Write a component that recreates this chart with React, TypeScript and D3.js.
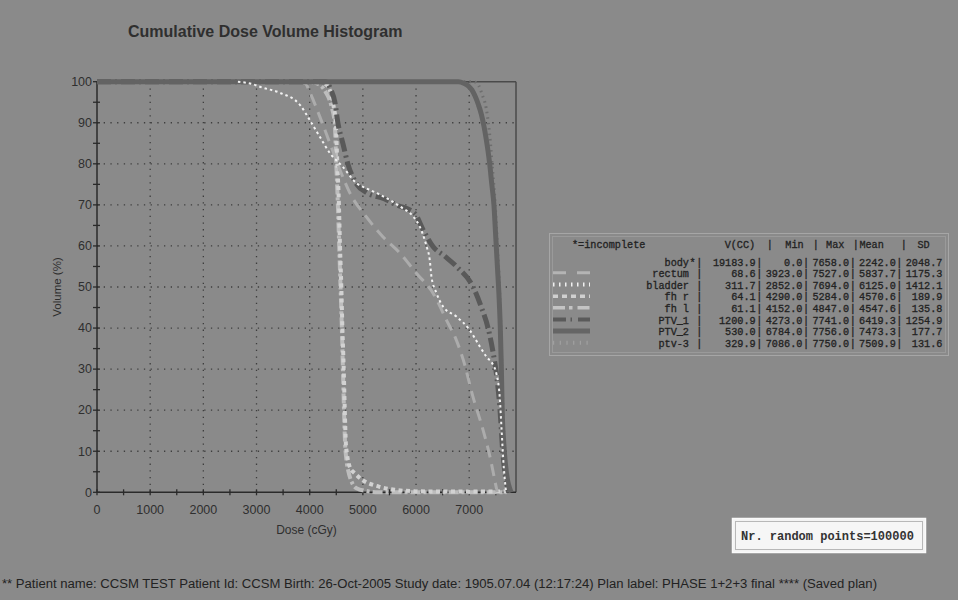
import React from "react";
import * as d3 from "d3";

// ---------- data ----------
const xTickValues = [0, 1000, 2000, 3000, 4000, 5000, 6000, 7000];
const yTickValues = [0, 10, 20, 30, 40, 50, 60, 70, 80, 90, 100];
const xMinorTicks = d3.range(0, 7501, 500);
const yMinorTicks = d3.range(0, 101, 5);

const structNames = ["body", "rectum", "bladder", "fh r", "fh l", "PTV_1", "PTV_2", "ptv-3"];
const incompleteFlag = [true, false, false, false, false, false, false, false];
const volCC = ["19183.9", "68.6", "311.7", "64.1", "61.1", "1200.9", "530.0", "329.9"];
const minDose = ["0.0", "3923.0", "2852.0", "4290.0", "4152.0", "4273.0", "6784.0", "7086.0"];
const maxDose = ["7658.0", "7527.0", "7694.0", "5284.0", "4847.0", "7741.0", "7756.0", "7750.0"];
const meanDose = ["2242.0", "5837.7", "6125.0", "4570.6", "4547.6", "6419.3", "7473.3", "7509.9"];
const sdDose = ["2048.7", "1175.3", "1412.1", "189.9", "135.8", "1254.9", "177.7", "131.6"];
const headerLeft = "*=incomplete";
const headerTokens = ["V(CC)", "|", "Min", "|", "Max", "|", "Mean", "|", "SD"];
const headerCells = [12.3, 18.6, 21.4, 25.5, 27.5, 31.5, 32.5, 38.7, 41.2];

// DVH curves: [dose cGy, volume %]
const rectumCurve: [number, number][] = [
  [3800, 100], [3923, 99.5], [4000, 97.5], [4190, 91.5], [4380, 85], [4570, 78.5], [4760, 72.8],
  [5070, 67], [5380, 62.2], [5700, 58.2], [6010, 53.3], [6320, 48.5], [6570, 42], [6760, 37],
  [6890, 32.2], [7070, 23.3], [7260, 15.2], [7390, 8.7], [7480, 3], [7527, 0],
];
const bladderCurve: [number, number][] = [
  [2650, 100], [2900, 99.5], [3100, 98.6], [3440, 97.3], [3820, 94.3], [4000, 90.7], [4190, 86.6],
  [4380, 82.6], [4620, 79.3], [4880, 75.3], [5070, 74], [5320, 72.5], [5700, 69.6], [5950, 67.1],
  [6070, 64.7], [6165, 61.4], [6200, 59.8], [6260, 56.4], [6290, 52.5], [6385, 48.5], [6510, 45.2],
  [6760, 42.8], [7010, 39.5], [7200, 35.5], [7325, 33], [7450, 31], [7510, 29], [7575, 23],
  [7610, 15], [7640, 8], [7670, 3], [7694, 0],
];
const fhrCurve: [number, number][] = [
  [4150, 100], [4290, 99.5], [4390, 97.5], [4450, 94], [4490, 90], [4520, 80], [4550, 70],
  [4570, 60], [4595, 50], [4615, 40], [4640, 30], [4660, 20], [4680, 12], [4700, 9.5], [4760, 6],
  [4850, 4.6], [4990, 3], [5300, 1.4], [5600, 0.6], [5900, 0.3], [6300, 0.2], [7700, 0.2],
];
const fhlCurve: [number, number][] = [
  [4000, 100], [4152, 99.5], [4300, 97.5], [4410, 94], [4470, 90], [4500, 80], [4530, 70],
  [4555, 60], [4580, 50], [4605, 40], [4625, 30], [4645, 20], [4665, 12], [4690, 8], [4730, 5],
  [4790, 2.5], [4880, 1], [5070, 0.3], [5300, 0], [7700, 0],
];
const ptv1Curve: [number, number][] = [
  [0, 100], [4300, 100], [4400, 98], [4474, 95], [4530, 90], [4624, 85], [4718, 80], [4887, 75],
  [5069, 73], [5400, 71.5], [5632, 70], [5977, 67.9], [6133, 63.9], [6322, 59.8], [6540, 57.5],
  [6760, 55], [7073, 50], [7230, 45], [7355, 40], [7450, 34], [7520, 28], [7580, 20], [7630, 10],
  [7680, 4], [7741, 0],
];
const ptv2Curve: [number, number][] = [
  [0, 100], [6800, 100], [6900, 99.6], [6980, 99], [7050, 98], [7110, 96.5], [7170, 94.5],
  [7230, 92], [7280, 89], [7320, 86], [7355, 83], [7385, 80], [7425, 75], [7465, 70], [7500, 62],
  [7530, 55], [7560, 48], [7585, 40], [7605, 30], [7620, 20], [7650, 12], [7680, 7], [7720, 3],
  [7760, 1], [7790, 0],
];
const ptv3Curve: [number, number][] = [
  [6900, 100], [7086, 100], [7180, 99], [7240, 97], [7320, 93.5], [7360, 90], [7400, 85],
  [7430, 80], [7490, 70], [7530, 60], [7570, 50], [7595, 40], [7615, 30], [7635, 20], [7670, 10],
  [7710, 4], [7750, 0],
];

const footerText =
  "** Patient name:  CCSM TEST Patient Id: CCSM Birth: 26-Oct-2005 Study date: 1905.07.04 (12:17:24) Plan label: PHASE 1+2+3 final **** (Saved plan)";

// ---------- layout ----------
const W = 958;
const H = 600;
const BG = "#8a8a8a";
const x = d3.scaleLinear().domain([0, 7880]).range([97, 516]);
const y = d3.scaleLinear().domain([0, 100]).range([492.3, 81.7]);

const lineGen = d3
  .line<[number, number]>()
  .x((d) => x(d[0]))
  .y((d) => y(d[1]))
  .curve(d3.curveMonotoneX);

type Style = { stroke: string; width: number; dash?: string };

const styles: Record<string, Style> = {
  rectum: { stroke: "#acacac", width: 3, dash: "12 7" },
  bladder: { stroke: "#f2f2f2", width: 2, dash: "2.5 3" },
  fhr: { stroke: "#d2d2d2", width: 4, dash: "4 3.5" },
  fhl: { stroke: "#bdbdbd", width: 4, dash: "10 3 3 3" },
  ptv1: { stroke: "#595959", width: 5, dash: "14 4 2 4" },
  ptv2: { stroke: "#636363", width: 5 },
  ptv3: { stroke: "#6e6e6e", width: 3, dash: "1.5 4" },
};

const legendStyleKeys = [null, "rectum", "bladder", "fhr", "fhl", "ptv1", "ptv2", "ptv3"];
const legendSwatch: Record<string, Style> = {
  rectum: { stroke: "#b4b4b4", width: 3, dash: "13 11" },
  bladder: { stroke: "#f0f0f0", width: 4, dash: "1.5 4.5" },
  fhr: { stroke: "#d0d0d0", width: 3.5, dash: "5 4" },
  fhl: { stroke: "#c4c4c4", width: 3.5, dash: "12 4 3.5 5" },
  ptv1: { stroke: "#5a5a5a", width: 4, dash: "13 4.5 1.5 6" },
  ptv2: { stroke: "#656565", width: 5 },
  ptv3: { stroke: "#a0a0a0", width: 4, dash: "1.2 5.5" },
};

const sans = "'Liberation Sans', Arial, sans-serif";
const mono = "'Liberation Mono', 'Courier New', monospace";
const ink = "#2f2f2f";

// monospace cell grid for the table
const MONO_FS = 10.2;
const CELL = 6.67;
const ROW_X = 642.6;
const cellX = (i: number) => ROW_X + i * CELL;
// field layout: name 0-6, flag 7, pipe 8, V 9-16, pipe 17, min 18-23, pipe 24, max 25-30, pipe 31, mean 32-37, pipe 38, sd 39-44
const pipeCells = [8, 17, 24, 31, 38];
const fieldEndCells = [17, 24, 31, 38, 45];

function Curve({ data, s }: { data: [number, number][]; s: Style }) {
  return (
    <path
      d={lineGen(data) || ""}
      fill="none"
      stroke={s.stroke}
      strokeWidth={s.width}
      strokeDasharray={s.dash}
      strokeLinejoin="round"
    />
  );
}

export default function App() {
  const x0 = x(0);
  const x1 = x.range()[1];
  const y0 = y(0);
  const y1 = y(100);

  const rowY = (i: number) => 261.7 + i * 11.65;

  return (
    <svg
      width={W}
      height={H}
      style={{ position: "absolute", left: 0, top: 0, display: "block" }}
      xmlns="http://www.w3.org/2000/svg"
    >
      <rect x={0} y={0} width={W} height={H} fill={BG} />

      {/* title */}
      <text x={128} y={37} fontFamily={sans} fontWeight="bold" fontSize={16} fill={ink}>
        Cumulative Dose Volume Histogram
      </text>

      {/* grid */}
      {xTickValues.filter((v) => v > 0).map((v) => (
        <line key={"gx" + v} x1={x(v)} x2={x(v)} y1={y1} y2={y0} stroke="#3e3e3e" strokeWidth={1.3} strokeDasharray="1.3 5.4" />
      ))}
      {yTickValues.filter((v) => v > 0 && v < 100).map((v) => (
        <line key={"gy" + v} x1={x0} x2={x1} y1={y(v)} y2={y(v)} stroke="#3e3e3e" strokeWidth={1.3} strokeDasharray="1.3 5.4" />
      ))}

      {/* frame */}
      <line x1={x0} x2={x1} y1={y1} y2={y1} stroke="#4a4a4a" strokeWidth={1.5} />
      <line x1={x1} x2={x1} y1={y1} y2={y0} stroke="#4a4a4a" strokeWidth={1.5} />

      {/* axes */}
      <line x1={x0} x2={x0} y1={y1} y2={y0} stroke="#2a2a2a" strokeWidth={1.5} />
      <line x1={x0} x2={x1} y1={y0} y2={y0} stroke="#2a2a2a" strokeWidth={1.5} />
      {yMinorTicks.map((v) => (
        <line key={"ty" + v} x1={x0 - 4} x2={x0 + 3} y1={y(v)} y2={y(v)} stroke="#2a2a2a" strokeWidth={1.3} />
      ))}
      {xMinorTicks.map((v) => (
        <line key={"tx" + v} x1={x(v)} x2={x(v)} y1={y0 - 3} y2={y0 + 3} stroke="#2a2a2a" strokeWidth={1.3} />
      ))}
      {yTickValues.map((v) => (
        <text key={"ly" + v} x={x0 - 5} y={y(v) + 4.3} textAnchor="end" fontFamily={sans} fontSize={12.5} fill={ink}>
          {v}
        </text>
      ))}
      {xTickValues.map((v) => (
        <text key={"lx" + v} x={x(v)} y={513.5} textAnchor="middle" fontFamily={sans} fontSize={12.5} fill={ink}>
          {v}
        </text>
      ))}
      <text x={(x0 + x1) / 2} y={534} textAnchor="middle" fontFamily={sans} fontSize={12} fill={ink}>
        Dose (cGy)
      </text>
      <text
        transform={`translate(61, ${(y0 + y1) / 2}) rotate(-90)`}
        textAnchor="middle"
        fontFamily={sans}
        fontSize={11.5}
        fill={ink}
      >
        Volume (%)
      </text>

      {/* curves */}
      <Curve data={fhlCurve} s={styles.fhl} />
      <Curve data={fhrCurve} s={styles.fhr} />
      <Curve data={rectumCurve} s={styles.rectum} />
      <Curve data={ptv1Curve} s={styles.ptv1} />
      <Curve data={ptv3Curve} s={styles.ptv3} />
      <Curve data={ptv2Curve} s={styles.ptv2} />
      <Curve data={bladderCurve} s={styles.bladder} />

      {/* legend table */}
      <rect x={549.5} y={233.5} width={399} height={122} fill="none" stroke="#a6a6a6" strokeWidth={1} />
      <rect x={552.5} y={236.5} width={393} height={116} fill="none" stroke="#9a9a9a" strokeWidth={1} />
      <g fontFamily={mono} fontSize={MONO_FS} fill="#222" stroke="#222" strokeWidth={0.3}>
        <text x={572} y={247.5}>{headerLeft}</text>
        {headerTokens.map((t, k) => (
          <text key={"h" + k} x={cellX(headerCells[k])} y={247.5}>{t}</text>
        ))}
        {structNames.map((n, i) => {
          const by = rowY(i) + 3.8;
          const vals = [volCC[i], minDose[i], maxDose[i], meanDose[i], sdDose[i]];
          return (
            <g key={"row" + n}>
              <text x={cellX(7) - 0.3} y={by} textAnchor="end">{n}</text>
              {incompleteFlag[i] && (
                <text x={cellX(7.5)} y={by} textAnchor="middle">*</text>
              )}
              {pipeCells.map((c, k) => (
                <text key={"p" + k} x={cellX(c + 0.5)} y={by} textAnchor="middle">|</text>
              ))}
              {vals.map((v, k) => (
                <text key={"v" + k} x={cellX(fieldEndCells[k]) - 0.3} y={by} textAnchor="end">{v}</text>
              ))}
            </g>
          );
        })}
      </g>
      {legendStyleKeys.map((k, i) => {
        if (!k) return null;
        const s = legendSwatch[k];
        return (
          <line
            key={"sw" + k}
            x1={553}
            x2={590}
            y1={rowY(i) - 0.5}
            y2={rowY(i) - 0.5}
            stroke={s.stroke}
            strokeWidth={s.width}
            strokeDasharray={s.dash}
          />
        );
      })}

      {/* random points box */}
      <rect x={732.5} y={518.5} width={193} height={34} fill="#f3f3f3" stroke="#fafafa" strokeWidth={1.5} />
      <rect x={735.5} y={521.5} width={187} height={28} fill="#f6f6f6" stroke="#b8b8b8" strokeWidth={1} />
      <text x={741} y={539.5} fontFamily={mono} fontSize={12} fontWeight="bold" fill="#333">
        Nr. random points=100000
      </text>

      {/* footer */}
      <text x={2} y={588} fontFamily={sans} fontSize={12} fill="#222" textLength={875} lengthAdjust="spacingAndGlyphs">
        {footerText}
      </text>
    </svg>
  );
}
